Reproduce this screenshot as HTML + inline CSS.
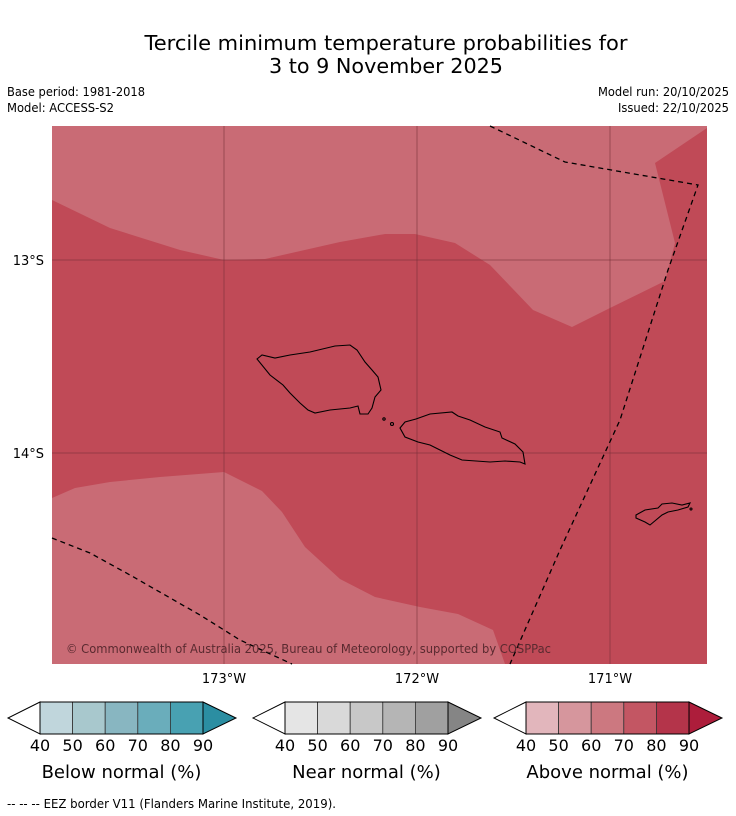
<!DOCTYPE html>
<html><head><meta charset="utf-8"><style>
html,body{margin:0;padding:0;background:#fff;}
svg{display:block;font-family:"DejaVu Sans","Liberation Sans",sans-serif;}
</style></head><body>
<svg id="c" width="736" height="816" viewBox="0 0 736 816">
<text x="386" y="50" font-size="20" text-anchor="middle" textLength="483" lengthAdjust="spacingAndGlyphs">Tercile minimum temperature probabilities for</text>
<text x="386" y="73" font-size="20" text-anchor="middle" textLength="234" lengthAdjust="spacingAndGlyphs">3 to 9 November 2025</text>
<text x="7" y="96" font-size="12" textLength="138" lengthAdjust="spacingAndGlyphs">Base period: 1981-2018</text>
<text x="7" y="112" font-size="12" textLength="107" lengthAdjust="spacingAndGlyphs">Model: ACCESS-S2</text>
<text x="598" y="96" font-size="12" textLength="131" lengthAdjust="spacingAndGlyphs">Model run: 20/10/2025</text>
<text x="618" y="112" font-size="12" textLength="111" lengthAdjust="spacingAndGlyphs">Issued: 22/10/2025</text>
<g>
<rect x="52" y="126" width="655" height="538" fill="#c04a57"/>
<polygon fill="#c96b75" points="52,126 707,126 707,128 655,163 675,243 665,281 610,308 572,327 533,310 512,288 490,265 455,243 415,234 385,234 340,242 265,259 224,260 180,250 110,228 52,200"/>
<polygon fill="#c96b75" points="52,498 75,488 110,482 160,477 224,472 262,491 282,512 305,547 340,579 375,597 420,607 458,614 493,630 505,664 52,664"/>
<g stroke="#7a3038" stroke-opacity="0.6" stroke-width="1">
<line x1="224" y1="126" x2="224" y2="664"/><line x1="417" y1="126" x2="417" y2="664"/><line x1="610" y1="126" x2="610" y2="664"/>
<line x1="52" y1="260" x2="707" y2="260"/><line x1="52" y1="453" x2="707" y2="453"/>
</g>
<g fill="none" stroke="#000" stroke-width="1.1">
<polygon points="257,359 262,355 275,358 290,355 310,352 335,346 350,345 357,350 365,362 372,370 378,377 381,390 375,397 372,408 368,414 360,414 358,406 350,408 330,410 315,413 308,410 300,403 290,393 283,385 270,375"/>
<polygon points="400,428 405,422 416,419 430,414 452,412 458,416 470,420 485,427 500,432 502,438 515,444 523,452 525,464 520,462 505,461 490,462 462,460 450,455 440,450 430,445 418,442 405,437"/>
<polygon points="636,515 645,510 658,508 662,504 672,503 682,505 690,503 688,507 678,510 668,512 662,515 656,520 650,525 645,522 636,518"/>
<circle cx="384" cy="419" r="1.2"/><circle cx="392" cy="424" r="1.5"/><circle cx="691" cy="509" r="1"/>
</g>
<g fill="none" stroke="#000" stroke-width="1.3" stroke-dasharray="5,4">
<polyline points="490,126 565,162 698,185 668,270 620,420 560,550 510,664"/>
<polyline points="52,538 90,553 130,575 200,615 240,640 292,664"/>
</g>
<text x="66" y="653" font-size="12" fill="#5a2a30" textLength="485" lengthAdjust="spacingAndGlyphs">© Commonwealth of Australia 2025, Bureau of Meteorology, supported by COSPPac</text>
</g>
<g font-size="13">
<text x="44" y="265" text-anchor="end">13°S</text>
<text x="44" y="458" text-anchor="end">14°S</text>
<text x="224" y="683" text-anchor="middle">173°W</text>
<text x="417" y="683" text-anchor="middle">172°W</text>
<text x="610" y="683" text-anchor="middle">171°W</text>
</g>
<g id="bars"></g>
<text x="7" y="808" font-size="12" textLength="329" lengthAdjust="spacingAndGlyphs">--  --  -- EEZ border V11 (Flanders Marine Institute, 2019).</text>
</svg>
<script>
const tickLabels = ["40","50","60","70","80","90"];
const blueColors = ["#c0d6dc","#a8c8cd","#88b6c1","#6aadbb","#48a1b2","#2b8ea2"];
const grayColors = ["#e5e5e5","#d9d9d9","#c8c8c8","#b5b5b5","#a0a0a0","#858585"];
const redColors = ["#e2b6bc","#d6969d","#cc7880","#c35663","#b4344a","#ad1d3b"];
const barTitles = ["Below normal (%)","Near normal (%)","Above normal (%)"];
const NS="http://www.w3.org/2000/svg";
const g=document.getElementById('bars');
const starts=[40,285,526], palettes=[blueColors,grayColors,redColors], names=['below','near','above'];
const y0=702,h=32,w=163;
function mk(t,a){const e=document.createElementNS(NS,t);for(const k in a)e.setAttribute(k,a[k]);return e;}
starts.forEach((x0,i)=>{
  const cg=mk('g',{});
  
  
  const n=tickLabels.length-1, cw=w/n, cols=palettes[i];
  const lt=mk('polygon',{points:`${x0},${y0} ${x0-32},${y0+h/2} ${x0},${y0+h}`,fill:'#fff',stroke:'#000','stroke-width':1});
  
  
  cg.appendChild(lt);
  for(let k=0;k<n;k++){
    const r=mk('rect',{x:x0+k*cw,y:y0,width:cw,height:h,fill:cols[k],stroke:'#333','stroke-width':0.8});
    
    
    cg.appendChild(r);
  }
  const rt=mk('polygon',{points:`${x0+w},${y0} ${x0+w+33},${y0+h/2} ${x0+w},${y0+h}`,fill:cols[n],stroke:'#000','stroke-width':1});
  
  
  cg.appendChild(rt);
  cg.appendChild(mk('rect',{x:x0,y:y0,width:w,height:h,fill:'none',stroke:'#000','stroke-width':1}));
  tickLabels.forEach((t,k)=>{
    const tx=mk('text',{x:x0+k*cw,y:751,'font-size':16,'text-anchor':'middle'});
    tx.textContent=t;
    
    
    cg.appendChild(tx);
  });
  const tt=mk('text',{x:x0+w/2,y:778,'font-size':18,'text-anchor':'middle'});
  tt.textContent=barTitles[i];
  
  
  cg.appendChild(tt);
  g.appendChild(cg);
});
</script>
</body></html>
